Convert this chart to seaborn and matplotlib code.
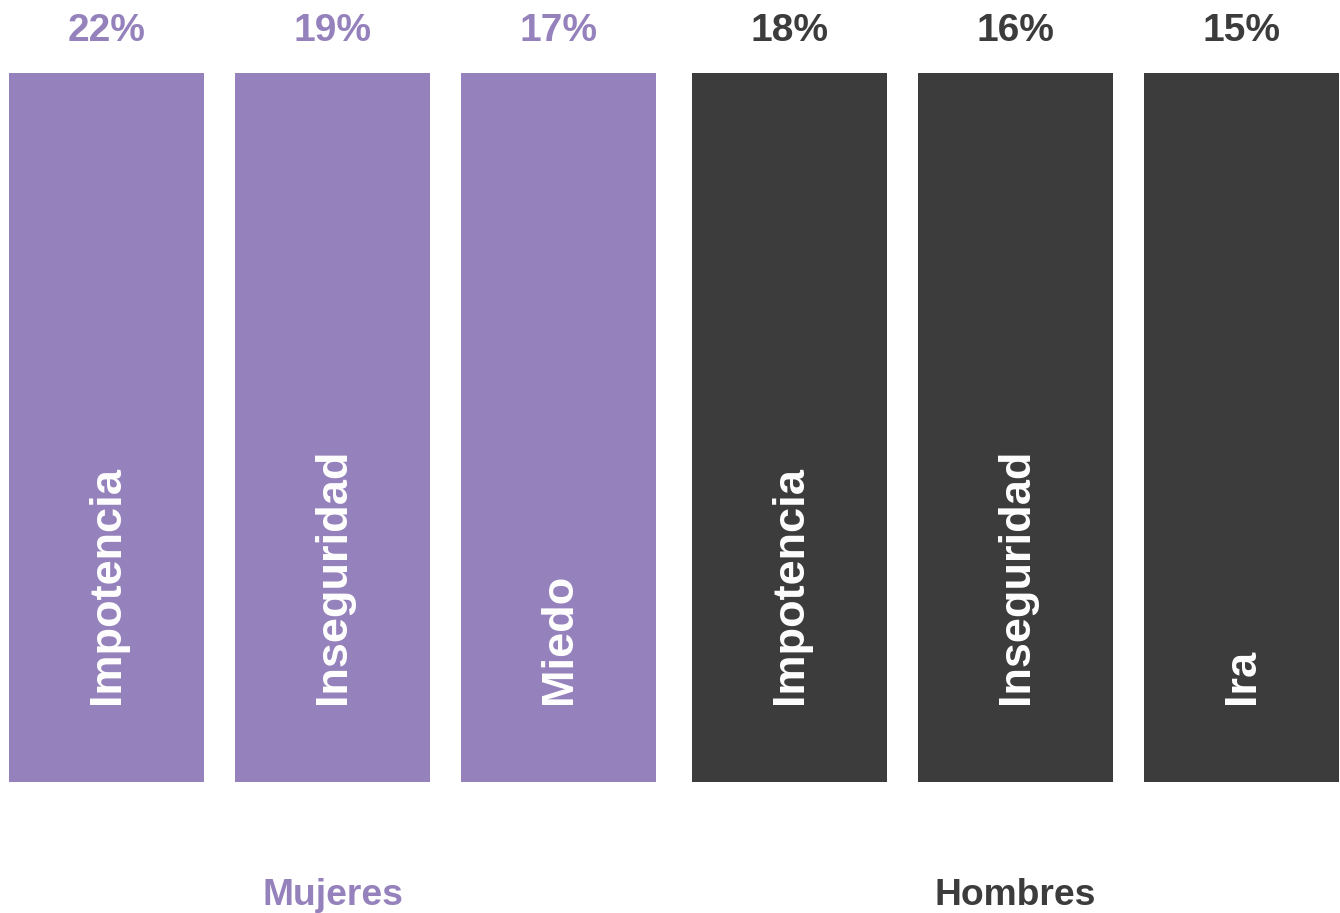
import pandas as pd
import matplotlib
matplotlib.use('Agg')
import matplotlib.pyplot as plt
import seaborn as sns

groups = ['Mujeres', 'Mujeres', 'Mujeres', 'Hombres', 'Hombres', 'Hombres']
emotions = ['Impotencia', 'Inseguridad', 'Miedo', 'Impotencia', 'Inseguridad', 'Ira']
shares = [22, 19, 17, 18, 16, 15]
group_names = ['Mujeres', 'Hombres']

colors = {'Mujeres': '#9581BB', 'Hombres': '#3C3C3C'}
group_gap = 5 / 226  # small extra space between the two groups

df = pd.DataFrame({'group': groups, 'emotion': emotions, 'share': shares})
df['pos'] = [i + group_names.index(g) * group_gap for i, g in enumerate(df['group'])]
df['full'] = 1  # every bar is drawn full height, value shown as text

sns.set_style('white')
plt.rcParams['font.family'] = ['Liberation Sans', 'DejaVu Sans']

fig = plt.figure(figsize=(13.4, 9.13), dpi=100)
ax = fig.add_axes([0, 131.5 / 913, 1, 708.5 / 913])

sns.barplot(data=df, x='pos', y='full', hue='group', palette=colors,
            native_scale=True, width=195 / 226, dodge=False, saturation=1,
            linewidth=0, legend=False, ax=ax)

ax.set_xlim(-0.4315 - 9 / 226, 5.4536 + 1 / 226)
ax.set_ylim(0, 1)
ax.axis('off')

tr = ax.get_xaxis_transform()
for _, row in df.iterrows():
    c = colors[row['group']]
    ax.text(row['pos'], 1.045, f"{row['share']}%", ha='center', va='baseline',
            fontsize=28, fontweight='bold', color=c, transform=tr, clip_on=False)
    ax.text(row['pos'] + 0.005, 0.109, row['emotion'], rotation=90, ha='center', va='bottom',
            fontsize=32.5, fontweight='bold', color='white', transform=tr)

# group captions under the middle bar of each group
for g in group_names:
    sub = df[df['group'] == g]
    mid = sub['pos'].iloc[len(sub) // 2]
    ax.text(mid, -0.175, g, ha='center', va='baseline', fontsize=26.8,
            fontweight='bold', color=colors[g], transform=tr, clip_on=False)

fig.savefig('out.png', dpi=100)
